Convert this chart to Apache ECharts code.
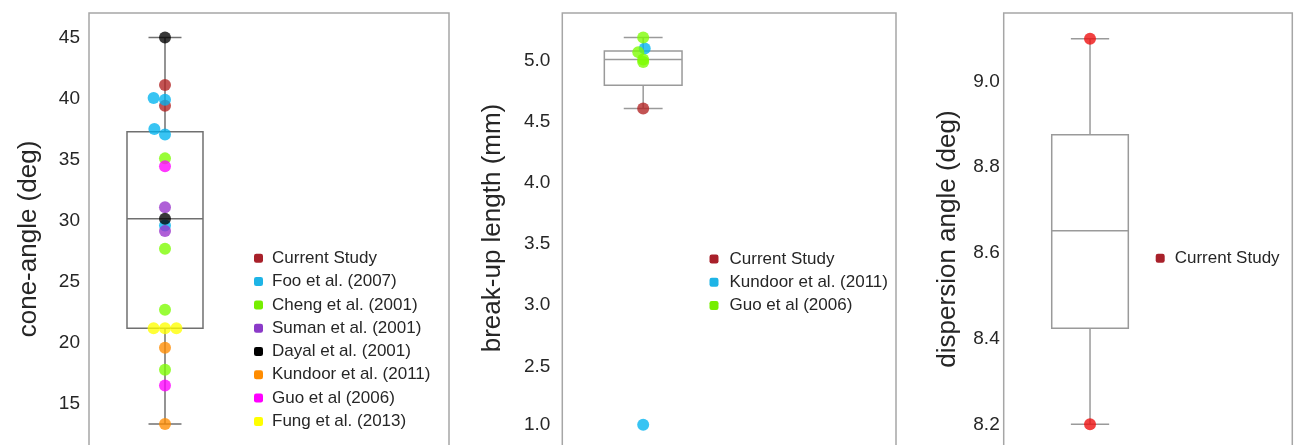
<!DOCTYPE html>
<html>
<head>
<meta charset="utf-8">
<script src="https://cdn.jsdelivr.net/npm/echarts@6/dist/echarts.min.js"></script>
<style>html,body{margin:0;padding:0;background:#fff}#chart{width:1295px;height:445px}</style>
</head>
<body>
<div id="chart"></div>
<script>
// ---------- Panel 1: cone-angle (deg) ----------
const coneSources = ['Current Study', 'Foo et al. (2007)', 'Cheng et al. (2001)', 'Suman et al. (2001)',
  'Dayal et al. (2001)', 'Kundoor et al. (2011)', 'Guo et al (2006)', 'Fung et al. (2013)'];
const coneValues = [
  [41.1, 39.4],
  [40.05, 39.9, 37.5, 37.05, 29.6],
  [35.1, 27.7, 22.7, 17.8],
  [31.1, 29.15],
  [45.0, 30.15],
  [19.6, 13.35],
  [34.45, 16.5],
  [21.2, 21.2, 21.2]
];
const coneJitter = [
  [0, 0],
  [-0.15, 0, -0.14, 0, 0],
  [0, 0, 0, 0],
  [0, 0],
  [0, 0],
  [0, 0],
  [0, 0],
  [-0.15, 0, 0.15]
];
const coneBox = [13.35, 21.2, 30.15, 37.27, 45.0]; // min, Q1, median, Q3, max
const coneTicks = [15, 20, 25, 30, 35, 40, 45];

// ---------- Panel 2: break-up length (mm) ----------
const breakSources = ['Current Study', 'Kundoor et al. (2011)', 'Guo et al (2006)'];
const breakValues = [
  [4.61],
  [5.10, 1.0],
  [5.19, 5.07, 5.01, 4.99]
];
const breakJitter = [
  [0],
  [0.02, 0],
  [0, -0.063, 0, 0]
];
const breakBox = [4.61, 4.80, 5.01, 5.08, 5.19];
const breakTicks = [1.0, 2.5, 3.0, 3.5, 4.0, 4.5, 5.0];
const breakRange = [1.0, 2.5]; // axis break between these values

// ---------- Panel 3: dispersion angle (deg) ----------
const dispSources = ['Current Study'];
const dispValues = [[9.10, 8.20]];
const dispJitter = [[0, 0]];
const dispBox = [8.20, 8.424, 8.652, 8.876, 9.10];
const dispTicks = [8.2, 8.4, 8.6, 8.8, 9.0];

// ---------- styling ----------
const FONT = '"Liberation Sans", Arial, sans-serif';
const TXT = '#262626';
const pointColor = {
  'Current Study': '#b22222', 'Foo et al. (2007)': '#00b4f0', 'Cheng et al. (2001)': '#7cfc00',
  'Suman et al. (2001)': '#9932cc', 'Dayal et al. (2001)': '#000000', 'Kundoor et al. (2011)': '#ff8c00',
  'Guo et al (2006)': '#ff00ff', 'Fung et al. (2013)': '#ffff00'
};
const legendColor1 = ['#a8202a', '#1eb4e6', '#76ee00', '#8b3ac8', '#000000', '#ff8c00', '#ff00ff', '#ffff00'];
const pointColor2 = ['#b22222', '#00b4f0', '#7cfc00'];
const legendColor2 = ['#a8202a', '#1eb4e6', '#76ee00'];
const pointColor3 = ['#ee1111'];
const legendColor3 = ['#a8202a'];

function onTick(ticks, digits) {
  return function (v) {
    for (const t of ticks) if (Math.abs(v - t) < 1e-6) return t.toFixed(digits);
    return '';
  };
}

function boxSeries(idx, stats, capHalf, color) {
  return {
    type: 'custom', xAxisIndex: idx, yAxisIndex: idx, z: 1, silent: true,
    data: [[0].concat(stats)],
    encode: { x: 0, y: [1, 2, 3, 4, 5] },
    renderItem: function (params, api) {
      const x = api.value(0);
      const v = [1, 2, 3, 4, 5].map(function (i) { return api.value(i); });
      const c = function (xx, yy) { return api.coord([xx, yy]); };
      const style = { stroke: color, lineWidth: 1.5, fill: 'none' };
      const line = function (a, b) {
        return { type: 'line', shape: { x1: a[0], y1: a[1], x2: b[0], y2: b[1] }, style: style };
      };
      const tl = c(x - 0.5, v[3]), br = c(x + 0.5, v[1]);
      return {
        type: 'group', children: [
          line(c(x, v[3]), c(x, v[4])),
          line(c(x, v[1]), c(x, v[0])),
          line(c(x - capHalf, v[4]), c(x + capHalf, v[4])),
          line(c(x - capHalf, v[0]), c(x + capHalf, v[0])),
          { type: 'rect', shape: { x: tl[0], y: tl[1], width: br[0] - tl[0], height: br[1] - tl[1] }, style: style },
          line(c(x - 0.5, v[2]), c(x + 0.5, v[2]))
        ]
      };
    }
  };
}

function scatterSeries(idx, names, values, jitter, colors, opacity) {
  return names.map(function (n, i) {
    return {
      type: 'scatter', name: n, xAxisIndex: idx, yAxisIndex: idx, z: 3, silent: true,
      symbolSize: 12,
      itemStyle: { color: colors[i], opacity: opacity },
      data: values[i].map(function (v, j) { return [jitter[i][j] || 0, v]; })
    };
  });
}

function legendFor(names, colors, left, top, textPad) {
  return {
    data: names.map(function (n, i) { return { name: n, itemStyle: { color: colors[i], opacity: 1 } }; }),
    orient: 'vertical', left: left, top: top, padding: 0,
    itemWidth: 9, itemHeight: 9, itemGap: 3.3, icon: 'roundRect', selectedMode: false,
    textStyle: { fontSize: 17, fontFamily: FONT, color: TXT, lineHeight: 20, padding: [0, 0, 0, textPad] }
  };
}

const gridBase = { show: true, borderColor: '#a6a6a6', borderWidth: 1.5, backgroundColor: 'transparent',
  containLabel: false, outerBoundsMode: 'none' };

function yAxisBase(idx, ticks, digits, margin) {
  return {
    gridIndex: idx, type: 'value',
    axisLine: { show: false }, axisTick: { show: false }, splitLine: { show: false },
    axisLabel: { fontSize: 19, color: TXT, fontFamily: FONT, margin: margin, formatter: onTick(ticks, digits) },
    nameLocation: 'middle',
    nameTextStyle: { fontSize: 26, fontFamily: FONT, color: TXT }
  };
}

const y1 = Object.assign(yAxisBase(0, coneTicks, 0, 9), { min: 10, max: 47, interval: 5, name: 'cone-angle (deg)', nameGap: 47 });
const y2 = Object.assign(yAxisBase(1, breakTicks, 1, 12), {
  min: 0.5, max: 5.39, interval: 0.5, name: 'break-up length (mm)', nameGap: 56,
  breaks: [{ start: breakRange[0], end: breakRange[1], gap: 0.478 }],
  breakArea: { show: false }
});
y2.nameTextStyle = { fontSize: 26, fontFamily: FONT, color: TXT, padding: [0, 0, 0, 43] };
const y3 = Object.assign(yAxisBase(2, dispTicks, 1, 4), { min: 8.105, max: 9.16, splitNumber: 5, name: 'dispersion angle (deg)', nameGap: 43 });

const chart = echarts.init(document.getElementById('chart'), null, { renderer: 'canvas' });
chart.setOption({
  animation: false,
  backgroundColor: '#ffffff',
  grid: [
    Object.assign({ left: 89, top: 13, right: 846, bottom: -20 }, gridBase),
    Object.assign({ left: 562.3, top: 13, right: 399, bottom: -41 }, gridBase),
    Object.assign({ left: 1003.7, top: 13, right: 2.7, bottom: -20 }, gridBase)
  ],
  xAxis: [
    { gridIndex: 0, type: 'value', min: -1.0, max: 3.737, show: false },
    { gridIndex: 1, type: 'value', min: -1.041, max: 3.254, show: false },
    { gridIndex: 2, type: 'value', min: -1.127, max: 2.641, show: false }
  ],
  yAxis: [y1, y2, y3],
  legend: [
    legendFor(coneSources, legendColor1, 254, 248.3, 4),
    legendFor(breakSources, legendColor2, 709.5, 249, 6),
    legendFor(dispSources, legendColor3, 1155.7, 248.3, 5)
  ],
  series: [].concat(
    [boxSeries(0, coneBox, 0.217, '#707070')],
    scatterSeries(0, coneSources, coneValues, coneJitter, coneSources.map(function (n) { return pointColor[n]; }), 0.78),
    [boxSeries(1, breakBox, 0.25, '#9a9a9a')],
    scatterSeries(1, breakSources, breakValues, breakJitter, pointColor2, 0.78),
    [boxSeries(2, dispBox, 0.25, '#9a9a9a')],
    scatterSeries(2, dispSources, dispValues, dispJitter, pointColor3, 0.8)
  )
});
</script>
</body>
</html>
